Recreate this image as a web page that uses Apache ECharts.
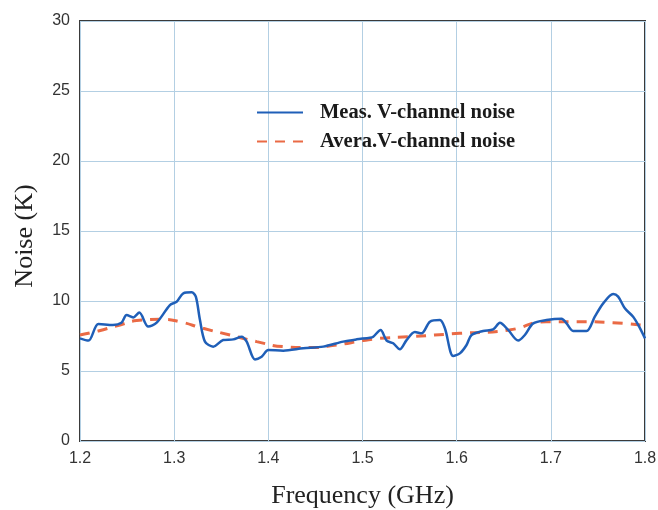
<!DOCTYPE html>
<html><head><meta charset="utf-8">
<script src="https://cdn.jsdelivr.net/npm/echarts@6/dist/echarts.min.js"></script>
<style>html,body{margin:0;padding:0;background:#fff}#c{width:658px;height:510px}</style>
</head><body><div id="c"></div>
<script>
var xTicks = ['1.2','1.3','1.4','1.5','1.6','1.7','1.8'];
var yTicks = [0,5,10,15,20,25,30];
var measFreq = [1.200,1.209,1.2195,1.235,1.244,1.2495,1.2566,1.263,1.2725,1.2814,1.2955,1.3026,1.3097,1.3186,1.323,1.3274,1.3327,1.3415,1.352,1.3628,1.3716,1.377,1.3858,1.3929,1.400,1.4158,1.437,1.4583,1.4795,1.4937,1.5079,1.5114,1.5192,1.5256,1.5326,1.5397,1.5468,1.5556,1.5627,1.5716,1.5822,1.5875,1.5963,1.6034,1.6105,1.6158,1.6281,1.6388,1.6459,1.6547,1.6653,1.6724,1.6813,1.6954,1.7114,1.7167,1.7237,1.7379,1.7467,1.7556,1.7662,1.7715,1.7786,1.7874,1.7928,1.800];
var measNoise = [7.33,7.17,8.36,8.29,8.45,9.0,8.83,9.17,8.17,8.45,9.71,9.95,10.55,10.62,10.31,8.64,7.1,6.74,7.21,7.26,7.45,7.1,5.83,6.02,6.5,6.45,6.62,6.74,7.1,7.26,7.38,7.45,7.93,7.17,6.98,6.55,7.21,7.79,7.69,8.52,8.64,8.05,6.07,6.26,6.86,7.57,7.86,7.98,8.45,7.93,7.17,7.57,8.4,8.64,8.74,8.4,7.86,7.86,8.88,9.83,10.5,10.31,9.48,8.88,8.29,7.33];
var avgFreq = [1.200,1.2195,1.2425,1.2602,1.2885,1.306,1.3306,1.3592,1.3876,1.4158,1.444,1.4724,1.5007,1.5185,1.550,1.603,1.656,1.695,1.727,1.766,1.800];
var avgNoise = [7.57,7.86,8.29,8.6,8.69,8.52,8.05,7.57,7.1,6.74,6.67,6.86,7.17,7.33,7.45,7.69,7.93,8.52,8.52,8.45,8.25];

function pairs(xs, ys){ return xs.map(function(x,i){ return [x, ys[i]]; }); }

var chart = echarts.init(document.getElementById('c'), null, {renderer:'canvas'});
chart.setOption({
  backgroundColor:'#fff',
  animation:false,
  grid:{left:80,right:13,top:21,bottom:69,show:true,borderColor:'#3a3a3a',borderWidth:2,backgroundColor:'transparent',
        containLabel:false, outerBoundsMode:'none'},
  legend:{
    orient:'vertical', left:251, top:97, itemWidth:46, itemHeight:18, itemGap:8,
    itemStyle:{opacity:0},
    textStyle:{fontFamily:'Liberation Serif',fontWeight:'bold',fontSize:20.5,color:'#1a1a1a',padding:[0,0,0,12]},
    data:['Meas. V-channel noise','Avera.V-channel noise']
  },
  xAxis:{
    type:'value', min:1.2, max:1.8, interval:0.1,
    name:'Frequency (GHz)', nameLocation:'middle', nameGap:42,
    nameTextStyle:{fontFamily:'Liberation Serif',fontSize:26,color:'#222'},
    axisLine:{show:false}, axisTick:{show:false},
    axisLabel:{fontFamily:'Liberation Sans',fontSize:16,color:'#333',margin:10,
      formatter:function(v){ var i=Math.round((v-1.2)*10); return xTicks[i]!==undefined?xTicks[i]:''; }},
    splitLine:{show:true,lineStyle:{color:'#b3cfe3',width:1}}
  },
  yAxis:{
    type:'value', min:0, max:30, interval:5,
    name:'Noise (K)', nameLocation:'middle', nameGap:42,
    nameTextStyle:{fontFamily:'Liberation Serif',fontSize:26,color:'#222',padding:[0,0,0,-10]},
    axisLine:{show:false}, axisTick:{show:false},
    axisLabel:{fontFamily:'Liberation Sans',fontSize:16,color:'#333',margin:10,
      formatter:function(v){ return yTicks.indexOf(v)>=0 ? String(v) : ''; }},
    splitLine:{show:true,lineStyle:{color:'#b3cfe3',width:1}}
  },
  series:[
    {name:'Meas. V-channel noise', type:'line', data:pairs(measFreq,measNoise), smooth:0.3, symbol:'none',
     lineStyle:{color:'#1f5fb8',width:2.5}, itemStyle:{color:'#1f5fb8'}, z:3},
    {name:'Avera.V-channel noise', type:'line', data:pairs(avgFreq,avgNoise), smooth:0.5, symbol:'none',
     lineStyle:{color:'#ea6a45',width:3,type:[10,8]}, itemStyle:{color:'#ea6a45'}, z:2}
  ]
});
</script></body></html>
